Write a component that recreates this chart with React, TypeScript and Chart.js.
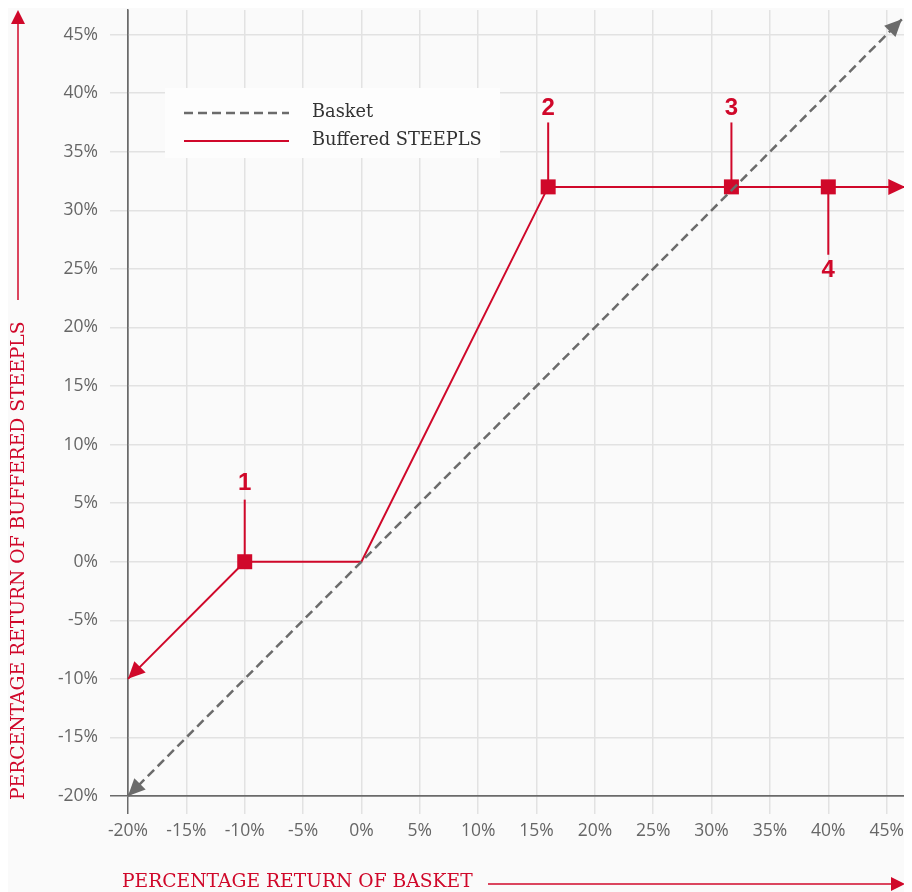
import React, { useEffect, useRef } from "react";
import { Chart, registerables } from "chart.js";

Chart.register(...registerables);

// ---- data ----
const basketX = [-20, 46.3];
const basketY = [-20, 46.3];
const steeplsX = [-20, -10, 0, 16, 31.7, 40, 46.6];
const steeplsY = [-10, 0, 0, 32, 32, 32, 32];
const steeplsMarker = [false, true, false, true, true, true, false];
const calloutLabels = ["1", "2", "3", "4"];
const calloutX = [-10, 16, 31.7, 40];
const calloutLineEndY = [5.3, 37.5, 37.5, 26.2];
const calloutLabelY = [6.7, 38.7, 38.7, 24.9];
const xTickMin = -20;
const xTickMax = 47;
const yTickMin = -20;
const yTickMax = 47.1;
const legendLabels = ["Basket", "Buffered STEEPLS"];
const xTitle = "PERCENTAGE RETURN OF BASKET";
const yTitle = "PERCENTAGE RETURN OF BUFFERED STEEPLS";

const RED = "#d0082a";
const GRAY = "#6b6b6b";
const GRID = "#e2e2e2";
const AXIS = "#6a6a6a";
const TICK_FONT = "'Open Sans', sans-serif";
const SERIF = "'DejaVu Serif', serif";

function arrowHead(ctx: CanvasRenderingContext2D, x0: number, y0: number, x1: number, y1: number, color: string, len = 17, half = 8) {
  const ang = Math.atan2(y1 - y0, x1 - x0);
  ctx.save();
  ctx.fillStyle = color;
  ctx.beginPath();
  ctx.moveTo(x1, y1);
  ctx.lineTo(x1 - len * Math.cos(ang) + half * Math.sin(ang), y1 - len * Math.sin(ang) - half * Math.cos(ang));
  ctx.lineTo(x1 - len * Math.cos(ang) - half * Math.sin(ang), y1 - len * Math.sin(ang) + half * Math.cos(ang));
  ctx.closePath();
  ctx.fill();
  ctx.restore();
}

const bgPlugin = {
  id: "bg",
  beforeDraw(chart: any) {
    const { ctx, width, height } = chart;
    ctx.save();
    ctx.fillStyle = "#fafafa";
    ctx.fillRect(0, 0, width, height);
    ctx.restore();
  },
};

const legendPlugin = {
  id: "customLegend",
  beforeDatasetsDraw(chart: any) {
    const ctx = chart.ctx as CanvasRenderingContext2D;
    ctx.save();
    ctx.fillStyle = "#fdfdfd";
    ctx.fillRect(157, 80, 335, 70);
    ctx.lineWidth = 2.5;
    ctx.strokeStyle = GRAY;
    ctx.setLineDash([9, 5]);
    ctx.beginPath();
    ctx.moveTo(176, 105);
    ctx.lineTo(281, 105);
    ctx.stroke();
    ctx.setLineDash([]);
    ctx.strokeStyle = RED;
    ctx.lineWidth = 2;
    ctx.beginPath();
    ctx.moveTo(176, 133);
    ctx.lineTo(281, 133);
    ctx.stroke();
    ctx.fillStyle = "#333";
    ctx.font = `17.8px ${SERIF}`;
    ctx.textBaseline = "middle";
    ctx.fillText(legendLabels[0], 304, 104);
    ctx.fillText(legendLabels[1], 304, 132);
    ctx.restore();
  },
};

const annotPlugin = {
  id: "annot",
  afterDatasetsDraw(chart: any) {
    const ctx = chart.ctx as CanvasRenderingContext2D;
    const xs = chart.scales.x;
    const ys = chart.scales.y;
    const px = (v: number) => xs.getPixelForValue(v);
    const py = (v: number) => ys.getPixelForValue(v);
    const n = steeplsX.length;
    arrowHead(ctx, px(steeplsX[1]), py(steeplsY[1]), px(steeplsX[0]), py(steeplsY[0]), RED);
    arrowHead(ctx, px(steeplsX[n - 2]), py(steeplsY[n - 2]), px(steeplsX[n - 1]), py(steeplsY[n - 1]), RED);
    arrowHead(ctx, px(basketX[1]), py(basketY[1]), px(basketX[0]), py(basketY[0]), GRAY);
    arrowHead(ctx, px(basketX[0]), py(basketY[0]), px(basketX[1]), py(basketY[1]), GRAY);
    ctx.save();
    ctx.fillStyle = RED;
    ctx.font = "bold 24px 'Liberation Sans', Arial, sans-serif";
    ctx.textAlign = "center";
    ctx.textBaseline = "middle";
    calloutLabels.forEach((t, i) => {
      ctx.fillText(t, px(calloutX[i]), py(calloutLabelY[i]));
    });
    ctx.restore();
  },
  afterDraw(chart: any) {
    const ctx = chart.ctx as CanvasRenderingContext2D;
    ctx.save();
    ctx.fillStyle = RED;
    ctx.strokeStyle = RED;
    ctx.font = `18.7px ${SERIF}`;
    ctx.textBaseline = "middle";
    ctx.textAlign = "left";
    ctx.fillText(xTitle, 114, 874);
    ctx.lineWidth = 1.5;
    ctx.beginPath();
    ctx.moveTo(480, 876);
    ctx.lineTo(885, 876);
    ctx.stroke();
    arrowHead(ctx, 480, 876, 897, 876, RED, 14, 7);
    ctx.save();
    ctx.translate(11, 792);
    ctx.rotate(-Math.PI / 2);
    ctx.fillText(yTitle, 0, 0);
    ctx.restore();
    ctx.beginPath();
    ctx.moveTo(10, 292);
    ctx.lineTo(10, 14);
    ctx.stroke();
    arrowHead(ctx, 10, 292, 10, 2, RED, 14, 7);
    ctx.restore();
  },
};

export default function App() {
  const ref = useRef<HTMLCanvasElement | null>(null);
  useEffect(() => {
    if (!ref.current) return;
    const datasets: any[] = [
      {
        label: "Basket",
        data: basketX.map((x, i) => ({ x, y: basketY[i] })),
        borderColor: GRAY,
        borderWidth: 2.5,
        borderDash: [9, 5],
        pointRadius: 0,
        clip: false,
      },
      {
        label: "Buffered STEEPLS",
        data: steeplsX.map((x, i) => ({ x, y: steeplsY[i] })),
        borderColor: RED,
        borderWidth: 2,
        pointStyle: "rect",
        pointRadius: steeplsMarker.map((m) => (m ? 10.6 : 0)),
        pointBackgroundColor: RED,
        pointBorderColor: RED,
        pointBorderWidth: 0,
        clip: false,
      },
      ...calloutX.map((x, i) => ({
        label: "callout" + calloutLabels[i],
        data: [
          { x, y: steeplsY[steeplsX.indexOf(x)] },
          { x, y: calloutLineEndY[i] },
        ],
        borderColor: RED,
        borderWidth: 2,
        pointRadius: 0,
        clip: false,
        order: 5,
      })),
    ];
    const gridColor = (c: any) => (c.tick && c.tick.value === -20 ? AXIS : GRID);
    const zeroPad = (s: any) => {
      s.paddingTop = 0;
      s.paddingBottom = 0;
      s.paddingLeft = 0;
      s.paddingRight = 0;
    };
    const chart = new Chart(ref.current, {
      type: "scatter",
      data: { datasets },
      plugins: [bgPlugin, legendPlugin, annotPlugin],
      options: {
        animation: false,
        responsive: false,
        showLine: true,
        layout: { padding: { top: 2, right: 2, left: 0, bottom: 0 } },
        plugins: { legend: { display: false }, tooltip: { enabled: false } },
        scales: {
          x: {
            type: "linear",
            min: xTickMin,
            max: xTickMax,
            afterFit: (s: any) => {
              s.height = 96;
              zeroPad(s);
            },
            ticks: {
              stepSize: 5,
              includeBounds: false,
              callback: (v: any) => v + "%",
              color: "#666",
              font: { family: TICK_FONT, size: 17.5 },
              padding: 7,
              maxRotation: 0,
            },
            grid: { color: gridColor, lineWidth: 1.5, tickLength: 18, drawTicks: true },
            border: { color: AXIS, width: 1.5 },
          },
          y: {
            type: "linear",
            min: yTickMin,
            max: yTickMax,
            afterFit: (s: any) => {
              s.width = 120;
              zeroPad(s);
            },
            ticks: {
              stepSize: 5,
              includeBounds: false,
              callback: (v: any) => v + "%",
              color: "#666",
              font: { family: TICK_FONT, size: 17.5 },
              padding: 12,
            },
            grid: { color: gridColor, lineWidth: 1.5, tickLength: 18, drawTicks: true },
            border: { color: AXIS, width: 1.5 },
          },
        },
      } as any,
    });
    return () => chart.destroy();
  }, []);
  return (
    <div style={{ width: 904, height: 884 }}>
      <canvas ref={ref} width={904} height={884} style={{ width: 904, height: 884, display: "block" }} />
    </div>
  );
}
